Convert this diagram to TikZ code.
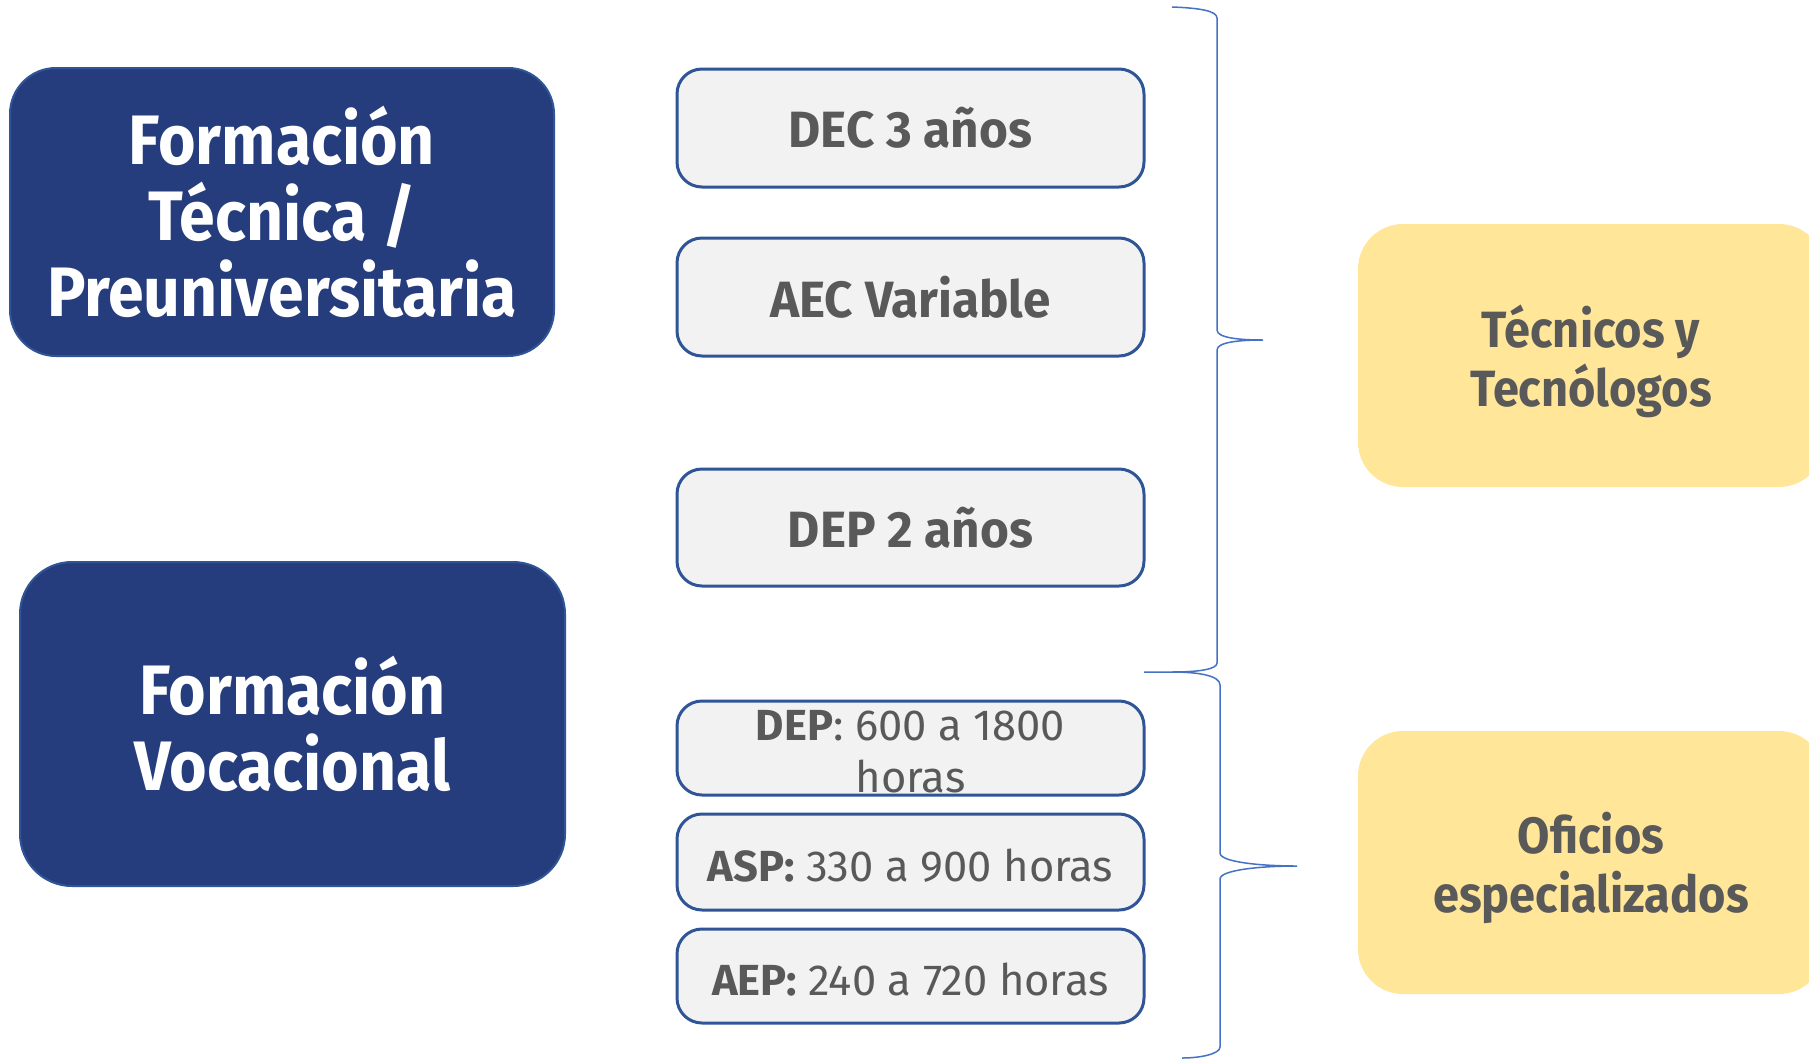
\documentclass[tikz,border=0pt]{standalone}
\usepackage{fontspec}
\setmainfont{Fira Sans}[FakeStretch=0.92]
\newfontfamily\grayboldfont{Fira Sans}[FakeStretch=0.97]
\newfontfamily\graysmallfont{Fira Sans}[FakeStretch=1.0]
\definecolor{navy}{RGB}{38,61,125}
\definecolor{bordblue}{RGB}{47,85,151}
\definecolor{boxgray}{RGB}{242,242,242}
\definecolor{txtgray}{RGB}{89,89,89}
\definecolor{yell}{RGB}{255,230,153}
\definecolor{braceblue}{RGB}{68,114,196}
\begin{document}
\begin{tikzpicture}[x=1pt,y=-1pt,
  navybox/.style={draw=bordblue, line width=2pt, fill=navy, text=white,
    font=\fontsize{70}{76}\selectfont\bfseries, align=center, inner sep=0pt},
  graybox/.style={draw=bordblue, line width=3pt, fill=boxgray, rounded corners=25pt,
    text=txtgray, minimum width=467pt, align=center, inner sep=0pt},
  bigtxt/.style={font=\grayboldfont\fontsize{51}{57}\selectfont\bfseries},
  smalltxt/.style={text=txtgray, align=center, inner sep=0pt,
    font=\graysmallfont\fontsize{43.5}{52}\selectfont},
  yellowbox/.style={fill=yell, rounded corners=45pt, minimum width=466pt,
    minimum height=263pt, inner sep=0pt},
  yellowtxt/.style={text=txtgray, align=center, inner sep=0pt,
    font=\fontsize{51}{59}\selectfont\bfseries},
  bracepath/.style={draw=braceblue, line width=1.5pt}]
\useasboundingbox (0,0) rectangle (1809,1058);
\clip (0,0) rectangle (1809,1058);
\fill[white] (0,0) rectangle (1809,1058);

% left boxes
\node[navybox, rounded corners=46pt, minimum width=544pt, minimum height=288pt]
  (tec) at (282,212) {Formación\\Técnica /\\Preuniversitaria};
\node[navybox, rounded corners=52pt, minimum width=545pt, minimum height=324pt]
  (voc) at (292.5,724) {Formación\\Vocacional};

% middle boxes
\node[graybox, bigtxt, minimum height=118pt] (dec) at (910.5,128) {DEC 3 años};
\node[graybox, bigtxt, minimum height=118pt] (aec) at (910.5,297) {AEC Variable};
\node[graybox, bigtxt, minimum height=117pt] (dep) at (910.5,527.5) {DEP 2 años};
\node[graybox, minimum height=94pt] (depa) at (910.5,748) {};
\node[graybox, minimum height=96pt] (asp) at (910.5,862) {};
\node[graybox, minimum height=94pt] (aep) at (910.5,976) {};
\node[smalltxt] (depatxt) at ([yshift=-3.5pt]depa.center) {\textbf{DEP}: 600 a 1800\\horas};
\node[smalltxt] (asptxt) at ([yshift=-3.5pt]asp.center) {\textbf{ASP:} 330 a 900 horas};
\node[smalltxt] (aeptxt) at ([yshift=-3.5pt]aep.center) {\textbf{AEP:} 240 a 720 horas};

% right boxes
\node[yellowbox] (tyt) at (1591,355.5) {};
\node[yellowbox] (ofi) at (1591,862.5) {};
\node[yellowtxt] (tyttxt) at ([yshift=-6pt]tyt.center) {Técnicos y\\Tecnólogos};
\node[yellowtxt] (ofitxt) at ([yshift=-5.5pt]ofi.center) {Oficios\\especializados};

% braces
\coordinate (b1top) at (1172,7);
\coordinate (b1tip) at (1263,340);
\coordinate (b1bot) at (1172,672);
\coordinate (b2top) at (1144,672);
\coordinate (b2tip) at (1297,866);
\coordinate (b2bot) at (1182,1058);
\draw[bracepath] (b1top) .. controls (1200,8) and (1217,11) .. (1217,18)
  -- (1217,330) .. controls (1217,338) and (1240,340) .. (b1tip)
  .. controls (1240,340) and (1217,342) .. (1217,350)
  -- (1217,663) .. controls (1217,669) and (1200,672) .. (b1bot);
\draw[bracepath] (b2top) -- (1172,672) .. controls (1200,672) and (1220,676) .. (1220,685)
  -- (1220,853) .. controls (1220,862) and (1260,866) .. (b2tip)
  .. controls (1260,866) and (1220,870) .. (1220,879)
  -- (1220,1047) .. controls (1220,1054) and (1200,1058) .. (b2bot);
\end{tikzpicture}
\end{document}
